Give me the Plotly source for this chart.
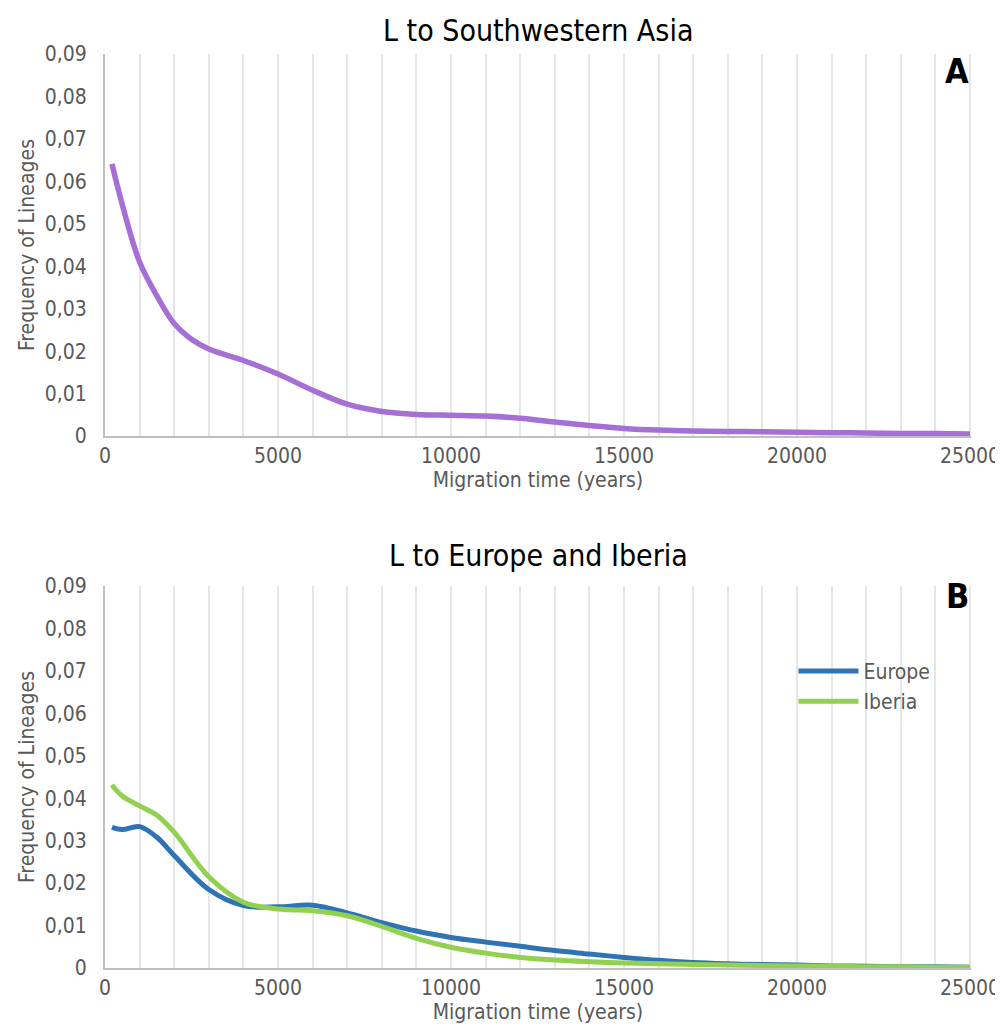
import plotly.graph_objects as go
from plotly.subplots import make_subplots

# ---- data ----
years_a = [200, 500, 1000, 1500, 2000, 2500, 3000, 4000, 5000, 6000, 7000, 8000, 9000,
           10000, 11000, 12000, 13000, 14000, 15000, 16000, 17000, 18000, 19000,
           20000, 21000, 22000, 23000, 24000, 25000]
sw_asia = [0.0641, 0.0545, 0.0410, 0.0330, 0.0265, 0.0228, 0.0205, 0.0178, 0.0146, 0.0108,
           0.0075, 0.0058, 0.0051, 0.0049, 0.0047, 0.0042, 0.0033, 0.0025, 0.0018, 0.0014,
           0.0012, 0.0011, 0.0010, 0.0009, 0.0008, 0.0007, 0.0006, 0.0006, 0.0005]

years_b = [200, 500, 1000, 1500, 2000, 3000, 4000, 5000, 6000, 7000, 8000, 9000,
           10000, 11000, 12000, 13000, 14000, 15000, 16000, 17000, 18000, 19000,
           20000, 21000, 22000, 23000, 24000, 25000]
europe = [0.0331, 0.0326, 0.0333, 0.0308, 0.0265, 0.0185, 0.0147, 0.0144, 0.0148, 0.0130,
          0.0107, 0.0087, 0.0072, 0.0061, 0.0051, 0.0041, 0.0033, 0.0025, 0.0018, 0.0013,
          0.0010, 0.0008, 0.0007, 0.0005, 0.0004, 0.0003, 0.0003, 0.0002]
iberia = [0.0431, 0.0405, 0.0382, 0.0360, 0.0320, 0.0215, 0.0155, 0.0139, 0.0135, 0.0123,
          0.0098, 0.0070, 0.0049, 0.0035, 0.0025, 0.0019, 0.0015, 0.0012, 0.0010, 0.0008,
          0.0007, 0.0006, 0.0005, 0.0004, 0.0003, 0.0003, 0.0002, 0.0002]

y_tickvals = [0, 0.01, 0.02, 0.03, 0.04, 0.05, 0.06, 0.07, 0.08, 0.09]
y_ticktext = ["0", "0,01", "0,02", "0,03", "0,04", "0,05", "0,06", "0,07", "0,08", "0,09"]
x_tickvals = [0, 5000, 10000, 15000, 20000, 25000]
x_ticktext = ["0", "5000", "10000", "15000", "20000", "25000"]

FONT = "Liberation Sans Narrow, DejaVu Sans Condensed, Roboto, sans-serif"
GRID = "#E6E6E6"
AXIS = "#BFBFBF"
TICKC = "#595959"

fig = make_subplots(rows=2, cols=1, vertical_spacing=0.164)

fig.add_trace(go.Scatter(x=years_a, y=sw_asia, mode="lines", line=dict(color="#A66FD5", width=5.5, shape="spline"),
                         showlegend=False), row=1, col=1)
fig.add_trace(go.Scatter(x=years_b, y=europe, mode="lines", name="Europe",
                         line=dict(color="#2E74B5", width=5, shape="spline")), row=2, col=1)
fig.add_trace(go.Scatter(x=years_b, y=iberia, mode="lines", name="Iberia",
                         line=dict(color="#92D050", width=5, shape="spline")), row=2, col=1)

for r in (1, 2):
    fig.update_xaxes(range=[0, 25030], tickvals=x_tickvals, ticktext=x_ticktext, automargin=False,
                     showgrid=True, gridcolor=GRID, gridwidth=2,
                     minor=dict(dtick=1000, tick0=0, showgrid=True, gridcolor=GRID, gridwidth=2),
                     showline=True, linecolor=AXIS, linewidth=2, zeroline=False,
                     tickfont=dict(family=FONT, size=21, color=TICKC), ticks="",
                     title=dict(text="Migration time (years)", font=dict(family=FONT, size=21, color=TICKC),
                                standoff=2),
                     row=r, col=1)
    fig.update_yaxes(range=[0, 0.09], tickvals=y_tickvals, ticktext=y_ticktext, automargin=False,
                     showgrid=False, zeroline=False, showline=True, linecolor=AXIS, linewidth=2,
                     tickfont=dict(family=FONT, size=21, color=TICKC), ticks="", ticklabelstandoff=12,
                     title=dict(text="Frequency of Lineages", font=dict(family=FONT, size=21, color=TICKC),
                                standoff=4),
                     row=r, col=1)

fig.update_layout(
    width=1003, height=1016,
    margin=dict(l=97, r=40, t=46, b=56),
    plot_bgcolor="white", paper_bgcolor="white",
    font=dict(family=FONT),
    legend=dict(x=0.795, y=0.347, xanchor="left", yanchor="top", bgcolor="rgba(0,0,0,0)",
                font=dict(family=FONT, size=21, color=TICKC), itemwidth=60, tracegroupgap=4),
    annotations=[
        dict(text="L to Southwestern Asia", x=0.5, y=1.0, xref="paper", yref="paper",
             xanchor="center", yanchor="bottom", yshift=4, showarrow=False,
             font=dict(family=FONT, size=30, color="black")),
        dict(text="L to Europe and Iberia", x=0.5, y=0.4256, xref="paper", yref="paper",
             xanchor="center", yanchor="bottom", yshift=4, showarrow=False,
             font=dict(family=FONT, size=30, color="black")),
        dict(text="<b>A</b>", x=0.997, y=1.0, xref="paper", yref="paper",
             xanchor="right", yanchor="top", yshift=5, xshift=3, showarrow=False,
             font=dict(family=FONT, size=34, color="black")),
        dict(text="<b>B</b>", x=0.997, y=0.4256, xref="paper", yref="paper",
             xanchor="right", yanchor="top", yshift=5, xshift=3, showarrow=False,
             font=dict(family=FONT, size=34, color="black")),
    ],
)

fig.write_html("out.html")
